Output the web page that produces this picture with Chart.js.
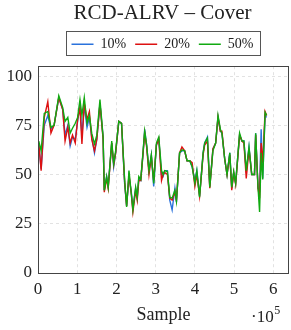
<!DOCTYPE html>
<html>
<head>
<meta charset="utf-8">
<script src="https://cdn.jsdelivr.net/npm/chart.js@4.4.0/dist/chart.umd.min.js"></script>
<style>
html,body{margin:0;padding:0;background:#fff;}
#wrap{width:291px;height:330px;}
</style>
</head>
<body>
<div id="wrap"><canvas id="c" width="291" height="330"></canvas></div>
<script>
// Sample positions (in units of 10^5)
const samples = [0.02,0.08,0.16,0.25,0.33,0.41,0.53,0.63,0.69,0.76,0.82,0.88,0.95,1.01,1.07,1.12,1.18,1.25,1.31,1.37,1.44,1.50,1.58,1.66,1.69,1.75,1.79,1.88,1.93,1.98,2.06,2.13,2.21,2.26,2.32,2.38,2.42,2.49,2.53,2.57,2.62,2.68,2.72,2.77,2.83,2.89,2.95,3.02,3.08,3.15,3.19,3.23,3.30,3.36,3.42,3.49,3.53,3.61,3.67,3.74,3.80,3.87,3.93,4.00,4.05,4.12,4.21,4.25,4.32,4.38,4.46,4.53,4.59,4.65,4.69,4.76,4.82,4.89,4.94,4.99,5.04,5.14,5.20,5.25,5.31,5.38,5.45,5.52,5.55,5.61,5.65,5.69,5.73,5.79,5.83];
const cover50 = [67,62,81,82,74,75,90,84,77,79,71,73.5,76,79,88,80,89,76,80,71,65.5,70,88,69,42,49,43.5,67,55.5,62,77,76,47,33.5,52,40,32,43.5,38.5,49,47.5,62,72,65,52,60,45.5,66,69,52,50,52,51.5,38.5,38,42,36.5,61,62.5,62,57,57,54,45.5,52,38.5,61,66,68.5,43.5,62,66,80,73,71,58,50,61,43.5,51.5,45.5,71,67,67,52,64,50,50,71,43.5,31,61,47.5,81.5,80];
const cover20 = [66,52,79,87,71,75,89,83,67,74,66,70,66,78,84,65.5,86,78,82,68,62,68,86,68,41,48,43,66,55,61,77,76,46,34,50,40,31,42,37,47,47,61,71,64,50,59,47,65,68,47,50,51,50,38,37,41,37,61,64,62,57,57,56,44,50,39,60,65,67,43,63,66,79,72,72,58,50,60,42,51,45,70,67,66,48,63,50,50,70,43,38,66,56,82,80];
const cover10 = [65,53,75,80,73,75,89,83,70,75,64.5,69,68,77,85,70,85,74,79,69,61,68,86,69,42,49,44,66,54,61,77,76,45,34,49,41,33,43,38,48,47,61,73,65,52,60,44,65,68,50,49,52,52,37,32,43,36,61,62,62,57,57,54,47,52,39,61,66,69,44,63,66,79,72,71,58,50,61,43,51,46,70,67,67,51,64,50,50,71,43,42,73,48,80,79];
const seriesNames = ['10%','20%','50%'];
const xTicks = [0,1,2,3,4,5,6];
const yTicks = [0,25,50,75,100];

const SERIF = "'Liberation Serif', 'DejaVu Serif', serif";
const colors = ['#2a72dc','#dd1111','#11aa11'];
const toPts = arr => arr.map((v,i)=>({x:samples[i], y:v}));

const framePlugin = {
  id:'frame',
  beforeInit(chart){
    // small gap between legend and plot area
    const spacer = {
      position:'top', weight:-1, fullSize:true, options:{},
      left:0, top:0, right:0, bottom:0, width:0, height:0,
      isHorizontal(){ return true; },
      update(maxWidth){ this.width = maxWidth; this.height = 5; },
      draw(){}
    };
    Chart.layouts.addBox(chart, spacer);
  },
  afterLayout(chart){
    // center title and legend over the plot area, like the reference
    const shift = chart.chartArea.left - 2;
    if (chart.titleBlock) chart.titleBlock.left += shift;
    if (chart.legend) chart.legend.left += shift;
  },
  afterDraw(chart){
    const {ctx, chartArea:a} = chart;
    ctx.save();
    ctx.strokeStyle = '#444';
    ctx.lineWidth = 1;
    ctx.strokeRect(Math.round(a.left)+0.5, Math.round(a.top)+0.5, Math.round(a.right-a.left)-1, Math.round(a.bottom-a.top));
    const lg = chart.legend;
    if (lg && lg.legendHitBoxes && lg.legendHitBoxes.length){
      const hb = lg.legendHitBoxes;
      let l = Math.min(...hb.map(h=>h.left)), r = Math.max(...hb.map(h=>h.left+h.width));
      let t = Math.min(...hb.map(h=>h.top)), b = Math.max(...hb.map(h=>h.top+h.height));
      ctx.strokeStyle = '#555';
      ctx.strokeRect(Math.round(l-6)+0.5, Math.round(t-6)+0.5, Math.round(r-l+12), Math.round(b-t+10));
    }
    ctx.fillStyle = '#222';
    ctx.textBaseline = 'alphabetic';
    ctx.textAlign = 'left';
    ctx.font = "17px " + SERIF;
    const base = 322;
    const txt = '\u00b710';
    const w = ctx.measureText(txt).width;
    const x0 = 251;
    ctx.fillText(txt, x0, base);
    ctx.font = "12px " + SERIF;
    ctx.fillText('5', x0 + w + 0.5, base - 8);
    ctx.restore();
  }
};

new Chart(document.getElementById('c'), {
  type:'line',
  data:{
    datasets:[
      {label:seriesNames[0], data:toPts(cover10), order:3, borderColor:colors[0], backgroundColor:colors[0], borderWidth:1.4, pointRadius:0, tension:0, fill:false},
      {label:seriesNames[1], data:toPts(cover20), order:2, borderColor:colors[1], backgroundColor:colors[1], borderWidth:1.4, pointRadius:0, tension:0, fill:false},
      {label:seriesNames[2], data:toPts(cover50), order:1, borderColor:colors[2], backgroundColor:colors[2], borderWidth:1.4, pointRadius:0, tension:0, fill:false}
    ]
  },
  options:{
    responsive:false,
    animation:false,
    devicePixelRatio:1,
    layout:{padding:{left:0, right:2, top:0, bottom:0}},
    plugins:{
      tooltip:{enabled:false},
      title:{display:true, text:'RCD-ALRV \u2013 Cover', color:'#222', font:{family:SERIF, size:21, weight:'normal', lineHeight:1.2}, padding:{top:1,bottom:2}},
      legend:{display:true, labels:{usePointStyle:true, pointStyle:'line', pointStyleWidth:22, boxHeight:14, color:'#222', font:{family:SERIF, size:14}, padding:9,
        sort:(a,b)=>a.datasetIndex-b.datasetIndex}}
    },
    scales:{
      x:{
        type:'linear', min:0, max:6.4,
        afterBuildTicks(s){ s.ticks = xTicks.map(v=>({value:v})); },
        afterFit(s){ s.height = 57; },
        ticks:{color:'#222', font:{family:SERIF, size:17}, padding:6, maxRotation:0, includeBounds:false},
        grid:{color:'#e2e2e2', drawTicks:false, tickLength:0},
        border:{display:false, dash:[3,3]},
        title:{display:true, text:'Sample', color:'#222', font:{family:SERIF, size:18}, padding:{top:0,bottom:4}}
      },
      y:{
        min:0, max:105,
        afterBuildTicks(s){ s.ticks = yTicks.map(v=>({value:v})); },
        afterFit(s){ s.width = 38; },
        ticks:{color:'#222', font:{family:SERIF, size:17}, padding:6},
        grid:{color:'#e2e2e2', drawTicks:false, tickLength:0},
        border:{display:false, dash:[3,3]}
      }
    }
  },
  plugins:[framePlugin]
});
</script>
</body>
</html>
